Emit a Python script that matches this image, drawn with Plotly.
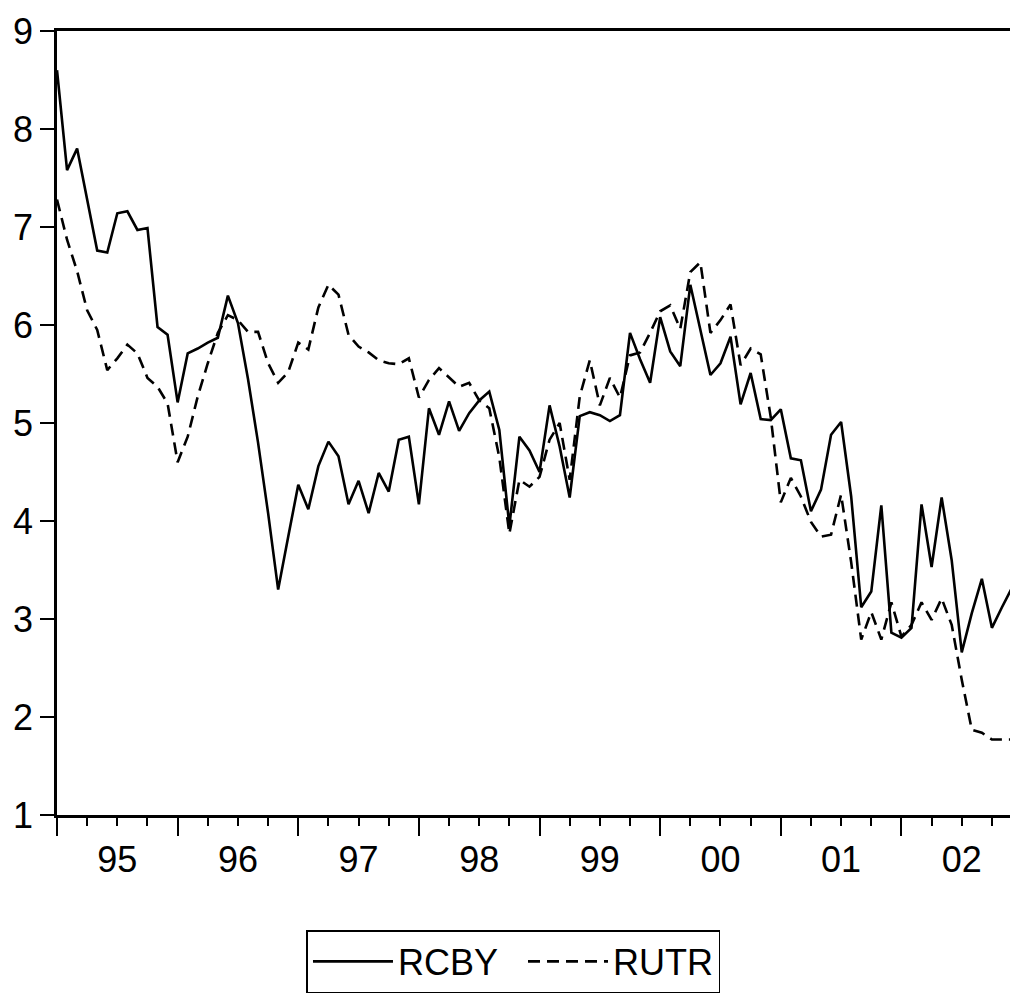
import plotly.graph_objects as go

# Monthly observations, 1995M01 .. 2002M12 (index 0 .. 95)
months = list(range(96))
rcby = [8.60, 7.58, 7.80, 7.28, 6.76, 6.74, 7.14, 7.16, 6.97, 6.99, 5.98, 5.90,
        5.21, 5.71, 5.76, 5.82, 5.87, 6.30, 6.02, 5.45, 4.80, 4.08, 3.30, 3.84,
        4.37, 4.12, 4.56, 4.81, 4.66, 4.17, 4.41, 4.08, 4.49, 4.30, 4.83, 4.86,
        4.17, 5.15, 4.88, 5.22, 4.92, 5.10, 5.23, 5.32, 4.93, 3.95, 4.86, 4.72,
        4.50, 5.18, 4.76, 4.24, 5.07, 5.11, 5.08, 5.02, 5.08, 5.92, 5.65, 5.41,
        6.08, 5.73, 5.58, 6.41, 5.95, 5.49, 5.61, 5.88, 5.19, 5.51, 5.04, 5.03,
        5.14, 4.64, 4.62, 4.10, 4.32, 4.88, 5.01, 4.25, 3.12, 3.28, 4.16, 2.86,
        2.81, 2.91, 4.17, 3.53, 4.24, 3.60, 2.66, 3.06, 3.41, 2.91, 3.12, 3.32]
rutr = [7.28, 6.87, 6.55, 6.15, 5.95, 5.54, 5.66, 5.80, 5.71, 5.46, 5.37, 5.20,
        4.60, 4.86, 5.27, 5.61, 5.92, 6.10, 6.05, 5.93, 5.93, 5.61, 5.41, 5.52,
        5.82, 5.75, 6.18, 6.41, 6.31, 5.90, 5.78, 5.72, 5.64, 5.61, 5.60, 5.66,
        5.26, 5.44, 5.56, 5.46, 5.37, 5.41, 5.23, 5.15, 4.65, 3.87, 4.42, 4.35,
        4.45, 4.83, 5.00, 4.42, 5.27, 5.64, 5.18, 5.46, 5.26, 5.69, 5.72, 5.92,
        6.14, 6.20, 5.96, 6.54, 6.64, 5.92, 6.05, 6.21, 5.59, 5.76, 5.70, 5.06,
        4.19, 4.44, 4.25, 3.99, 3.84, 3.86, 4.27, 3.58, 2.79, 3.07, 2.79, 3.17,
        2.82, 2.94, 3.17, 2.99, 3.21, 2.94, 2.38, 1.87, 1.84, 1.77, 1.77, 1.77]

year_starts = [0, 12, 24, 36, 48, 60, 72, 84]
year_mids = [6, 18, 30, 42, 54, 66, 78, 90]
year_labels = ["95", "96", "97", "98", "99", "00", "01", "02"]
y_ticks = [1, 2, 3, 4, 5, 6, 7, 8, 9]
series_names = ["RCBY", "RUTR"]

FONT = "Arial, Liberation Sans, sans-serif"
XR = [0, 94.8]
NBSP = "\u00a0"

fig = go.Figure()
fig.add_trace(go.Scatter(x=months, y=rcby, mode="lines", name=series_names[0] + NBSP * 2,
                         line=dict(color="black", width=2.6)))
fig.add_trace(go.Scatter(x=months, y=rutr, mode="lines", name=series_names[1],
                         line=dict(color="black", width=2.6, dash="12px,7px")))
# invisible helper trace to activate the label axis
fig.add_trace(go.Scatter(x=[0], y=[1], xaxis="x2", mode="markers",
                         marker=dict(opacity=0), showlegend=False, hoverinfo="skip"))

fig.update_layout(
    width=1010, height=1000,
    margin=dict(l=57, r=0, t=31, b=185, autoexpand=False),
    paper_bgcolor="white", plot_bgcolor="white",
    font=dict(family=FONT, size=36, color="black"),
    showlegend=True,
    legend=dict(orientation="h", xref="container", yref="container",
                x=0.5084, y=0.07, xanchor="center", yanchor="top",
                bordercolor="black", borderwidth=1.5, bgcolor="white",
                font=dict(family=FONT, size=36, color="black"),
                itemwidth=80, tracegroupgap=0),
    xaxis=dict(range=XR, tickmode="array", tickvals=year_starts, showticklabels=False,
               ticks="outside", ticklen=18, tickwidth=1.5, tickcolor="black",
               minor=dict(dtick=3, tick0=0, ticks="outside", ticklen=8, tickwidth=1.5,
                          tickcolor="black", showgrid=False),
               showgrid=False, zeroline=False, showline=True, linecolor="black",
               linewidth=2.5, mirror=True, automargin=False),
    xaxis2=dict(range=XR, overlaying="x", side="bottom", tickmode="array",
                tickvals=year_mids, ticktext=year_labels, ticks="outside",
                ticklen=13, tickcolor="rgba(0,0,0,0)", showgrid=False,
                zeroline=False, showline=False, automargin=False,
                tickfont=dict(family=FONT, size=36, color="black")),
    yaxis=dict(range=[1, 9], tickmode="array", tickvals=y_ticks,
               ticks="outside", ticklen=14, tickwidth=1.5, tickcolor="black",
               showgrid=False, zeroline=False, showline=True, linecolor="black",
               linewidth=2.5, mirror=True, ticklabelstandoff=0, automargin=False,
               tickfont=dict(family=FONT, size=36, color="black")),
)

fig.write_html(
    "out.html",
    config={"displayModeBar": False},
    post_script="document.body.style.margin='0';document.body.style.overflow='hidden';",
)
